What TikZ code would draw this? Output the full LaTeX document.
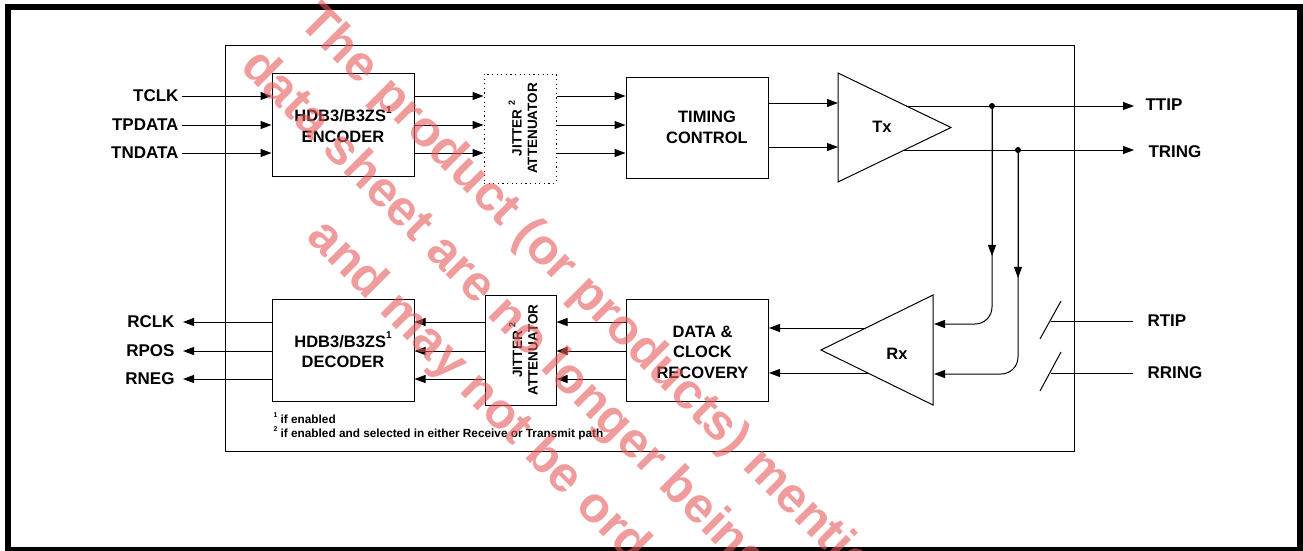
\documentclass[tikz,border=0pt]{standalone}
\usepackage{fontspec}
\setmainfont{Liberation Sans}
\usetikzlibrary{arrows.meta,calc,positioning}
\definecolor{wmred}{RGB}{232,90,90}
\newcommand{\upnum}[2][10]{\raisebox{.5em}{\fontsize{#1}{#1}\selectfont#2}}

\begin{document}
\begin{tikzpicture}[x=1pt,y=-1pt,line width=1pt,
 every node/.style={font=\bfseries\fontsize{16.5}{20.5}\selectfont,align=center,inner sep=0pt},
 box/.style={draw,minimum width=142pt,minimum height=102pt},
 jbox/.style={draw,minimum width=71pt,minimum height=110pt},
 jtxt/.style={rotate=90,font=\bfseries\fontsize{13.5}{15.5}\selectfont},
 pin/.style={font=\bfseries\fontsize{17}{20}\selectfont},
 note/.style={anchor=west,align=left,font=\bfseries\fontsize{11.8}{15}\selectfont},
 arr/.style={-{Triangle[length=11pt,width=8pt]}},
 wm/.style={rotate=-45,anchor=base west,text=wmred,font=\bfseries\fontsize{50}{50}\selectfont}]
\useasboundingbox (0,0) rectangle (1303,550);
\draw[line width=6pt] (8,7) rectangle (1300,550);
\draw (225,45) rectangle (1074,451);

% transmit side
\node[pin,anchor=east] (tclk) at (179,96) {TCLK};
\node[pin,anchor=east] (tpdata) at (179,125) {TPDATA};
\node[pin,anchor=east] (tndata) at (179,153) {TNDATA};
\node[box,minimum height=103pt] (enc) at (343,124.5) {HDB3/B3ZS\upnum{1}\\ENCODER};
\node[jbox,dash pattern=on 1.2pt off 3.4pt,minimum width=72pt,minimum height=109pt] (jt) at (520,128.5) {};
\node[jtxt] at ([xshift=3pt]jt.center) {JITTER \upnum[9]{2}\\ATTENUATOR};
\node[box,minimum height=101pt] (tim) at (697,127.5) {};
\node at ([xshift=10pt]tim.center) {TIMING\\CONTROL};
\draw[arr,shorten <=3pt] (tclk.east) -- (tclk -| enc.west);
\draw[arr,shorten <=3pt] (tpdata.east) -- (tpdata -| enc.west);
\draw[arr,shorten <=3pt] (tndata.east) -- (tndata -| enc.west);
\draw[arr] (tclk -| enc.east) -- (tclk -| jt.west);
\draw[arr] (tpdata -| enc.east) -- (tpdata -| jt.west);
\draw[arr] (tndata -| enc.east) -- (tndata -| jt.west);
\draw[arr] (tclk -| jt.east) -- (tclk -| tim.west);
\draw[arr] (tpdata -| jt.east) -- (tpdata -| tim.west);
\draw[arr] (tndata -| jt.east) -- (tndata -| tim.west);

% Tx driver
\coordinate (txa) at (838,73);
\coordinate (txb) at (838,182);
\coordinate (txc) at (951,127.5);
\draw (txa) -- (txc) -- (txb) -- cycle;
\node (tx) at (882,127) {Tx};
\coordinate (tin1) at (838,103);
\coordinate (tin2) at (838,147);
\draw[arr] (tin1 -| tim.east) -- (tin1);
\draw[arr] (tin2 -| tim.east) -- (tin2);
\coordinate (txo1) at ($(txa)!0.6055!(txc)$);
\coordinate (txo2) at ($(txb)!0.587!(txc)$);
\node[pin,anchor=west] (ttip) at (1145,105) {TTIP};
\node[pin,anchor=west] (tring) at (1148,152) {TRING};
\draw[arr,shorten >=11pt] (txo1) -- (txo1 -| ttip.west);
\draw[arr,shorten >=14pt] (txo2) -- (txo2 -| tring.west);
\coordinate (d1) at (txo1 -| 992,0);
\coordinate (d2) at (txo2 -| 1018,0);
\fill (d1) circle (3pt);
\fill (d2) circle (3pt);

% Rx receiver
\coordinate (rxa) at (933,295);
\coordinate (rxb) at (933,405);
\coordinate (rxc) at (821,350);
\draw (rxa) -- (rxb) -- (rxc) -- cycle;
\node (rx) at (897,354) {Rx};
\coordinate (rxi1) at (934,324);
\coordinate (rxi2) at (934,374);
\draw[arr,rounded corners=17pt] (d1) -- (d1 |- rxi1) -- (rxi1);
\draw[arr,rounded corners=17pt] (d2) -- (d2 |- rxi2) -- (rxi2);
\draw[arr] (d1) -- ($(d1)!0.688!(d1 |- rxi1)$);
\draw[arr] (d2) -- ($(d2)!0.571!(d2 |- rxi2)$);

% line inputs
\node[pin,anchor=west] (rtip) at (1147,321) {RTIP};
\node[pin,anchor=west] (rring) at (1147,373) {RRING};
\coordinate (s1) at (1050.5,320);
\coordinate (s2) at (1050.5,371.5);
\draw ($(s1)+(-10.5,19)$) -- ($(s1)+(10.5,-19)$);
\draw ($(s2)+(-10.5,19.5)$) -- ($(s2)+(10.5,-19.5)$);
\draw[shorten >=14pt] (s1 |- rtip) -- (rtip.west);
\draw[shorten >=14pt] (s2 |- rring) -- (rring.west);

% receive side
\node[box] (dcr) at (697.5,350) {};
\node at ([xshift=5pt,yshift=-2pt]dcr.center) {DATA \&\\CLOCK\\RECOVERY};
\node[jbox] (jr) at (520.5,350) {};
\node[jtxt] at ([xshift=3pt]jr.center) {JITTER \upnum[9]{2}\\ATTENUATOR};
\node[box] (dec) at (343,350) {HDB3/B3ZS\upnum{1}\\DECODER};
\node[pin,anchor=east] (rclk) at (175,322) {RCLK};
\node[pin,anchor=east] (rpos) at (175,351) {RPOS};
\node[pin,anchor=east] (rneg) at (175,379) {RNEG};
\coordinate (rxo1) at ($(rxc)!0.4!(rxa)$);
\coordinate (rxo2) at ($(rxc)!0.418!(rxb)$);
\draw[arr] (rxo1) -- (rxo1 -| dcr.east);
\draw[arr] (rxo2) -- (rxo2 -| dcr.east);
\draw[arr] (rclk -| dcr.west) -- (rclk -| jr.east);
\draw[arr] (rpos -| dcr.west) -- (rpos -| jr.east);
\draw[arr] (rneg -| dcr.west) -- (rneg -| jr.east);
\draw[arr] (rclk -| jr.west) -- (rclk -| dec.east);
\draw[arr] (rpos -| jr.west) -- (rpos -| dec.east);
\draw[arr] (rneg -| jr.west) -- (rneg -| dec.east);
\draw[arr,shorten >=8pt] (rclk -| dec.west) -- (rclk.east);
\draw[arr,shorten >=8pt] (rpos -| dec.west) -- (rpos.east);
\draw[arr,shorten >=8pt] (rneg -| dec.west) -- (rneg.east);

% footnotes
\node[note] (fn1) at (273,418) {\upnum[7]{1} if enabled};
\node[note] (fn2) at (273,433) {\upnum[7]{2} if enabled and selected in either Receive or Transmit path};

% watermark
\begin{scope}[opacity=0.6]
\clip (0,0) rectangle (1303,550);
\node[wm] (wm1) at (297,23) {The product (or products) mentioned in this};
\node[wm] (wm2) at (239,68) {data sheet are no longer being manufactured};
\node[wm] (wm3) at (305,238) {and may not be ordered.};
\end{scope}
\end{tikzpicture}
\end{document}
